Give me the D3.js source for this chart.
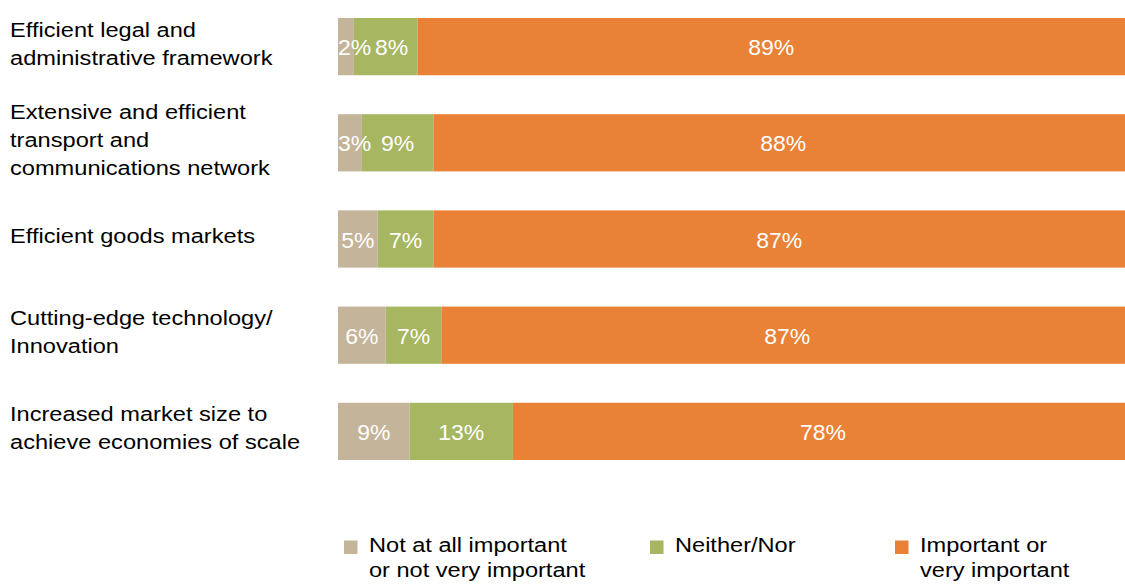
<!DOCTYPE html>
<html>
<head>
<meta charset="utf-8">
<script src="https://cdn.jsdelivr.net/npm/d3@7"></script>
<style>
  html, body { margin: 0; padding: 0; background: #fff; }
  svg { display: block; font-family: "Liberation Sans", Arial, sans-serif; }
</style>
</head>
<body>
<svg id="chart" width="1125" height="584"></svg>
<script>
// Survey categories, one line per array entry
const categories = [
  ["Efficient legal and", "administrative framework"],
  ["Extensive and efficient", "transport and", "communications network"],
  ["Efficient goods markets"],
  ["Cutting-edge technology/", "Innovation"],
  ["Increased market size to", "achieve economies of scale"]
];

// Share of responses (%) per answer group
const notImportant = [2, 3, 5, 6, 9];
const neitherNor   = [8, 9, 7, 7, 13];
const important    = [89, 88, 87, 87, 78];

const seriesNames = [
  ["Not at all important", "or not very important"],
  ["Neither/Nor"],
  ["Important or", "very important"]
];
const seriesColors = ["#C4B49A", "#A6B661", "#E98137"];

const svg = d3.select("#chart");
const keys = ["a", "b", "c"];
const rows = categories.map((c, i) => ({
  idx: i, a: notImportant[i], b: neitherNor[i], c: important[i]
}));

const x = d3.scaleLinear().domain([0, 100]).range([338, 1133]);
const y = d3.scaleBand().domain(d3.range(categories.length))
  .range([18, 460]).paddingInner(0.405).paddingOuter(0).align(0);

const stack = d3.stack().keys(keys)(rows);

// bars
svg.append("g").selectAll("g").data(stack).join("g")
  .attr("fill", (d, i) => seriesColors[i])
  .selectAll("rect").data(d => d).join("rect")
  .attr("x", d => x(d[0]))
  .attr("y", (d, i) => y(i))
  .attr("width", d => x(d[1]) - x(d[0]))
  .attr("height", y.bandwidth());

// value labels: centred on their segment, nudged right when a narrow
// segment would push them past the bar start or onto the previous label
const labelHalf = 16.5, labelGap = 4;
const labels = [];
rows.forEach((r, i) => {
  let prevRight = x(0) - labelGap;
  stack.forEach(layer => {
    const d = layer[i];
    let cx = (x(d[0]) + x(d[1])) / 2;
    cx = Math.max(cx, prevRight + labelGap + labelHalf);
    prevRight = cx + labelHalf;
    labels.push({ row: i, cx, value: d[1] - d[0] });
  });
});

svg.append("g").selectAll("text").data(labels).join("text")
  .attr("transform", d =>
    `translate(${d.cx},${y(d.row) + y.bandwidth() / 2}) scale(1.07,1)`)
  .attr("dy", "0.4em")
  .attr("text-anchor", "middle")
  .attr("fill", "#fff")
  .attr("font-size", 21.5)
  .text(d => d.value + "%");

// category labels
const lineH = 28;
svg.append("g").selectAll("text").data(categories).join("text")
  .attr("transform", (d, i) =>
    `translate(10,${y(i) + y.bandwidth() / 2 + 4 - (d.length - 1) * lineH / 2}) scale(1.125,1)`)
  .attr("font-size", 21)
  .attr("fill", "#000")
  .selectAll("tspan").data(d => d).join("tspan")
  .attr("x", 0)
  .attr("dy", (d, j) => j === 0 ? 0 : lineH)
  .text(d => d);

// legend
const legendX = [344, 650, 895];
const legend = svg.append("g").selectAll("g").data(seriesNames).join("g")
  .attr("transform", (d, i) => `translate(${legendX[i]},0)`);
legend.append("rect")
  .attr("x", 0).attr("y", 540.5).attr("width", 13.5).attr("height", 13.5)
  .attr("fill", (d, i) => seriesColors[i]);
legend.append("text")
  .attr("transform", "translate(25,552) scale(1.21,1)")
  .attr("font-size", 19.5)
  .attr("fill", "#000")
  .selectAll("tspan").data(d => d).join("tspan")
  .attr("x", 0)
  .attr("y", (d, j) => j * 25.5)
  .text(d => d);
</script>
</body>
</html>
